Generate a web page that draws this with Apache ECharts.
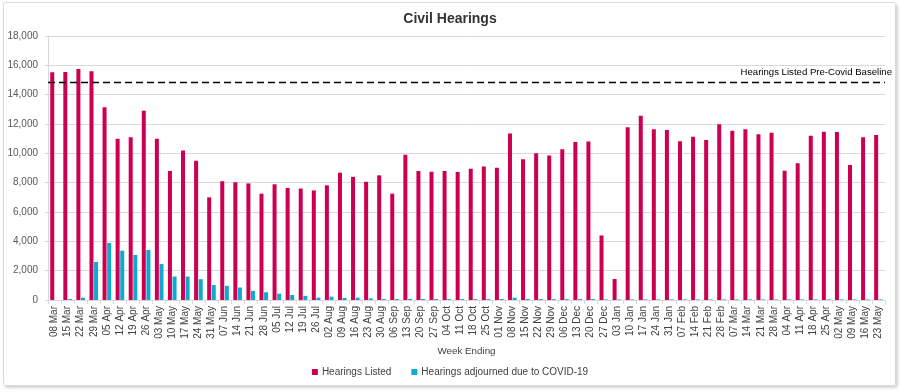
<!DOCTYPE html>
<html>
<head>
<meta charset="utf-8">
<script src="https://cdn.jsdelivr.net/npm/echarts@6/dist/echarts.min.js"></script>
<style>
html,body{margin:0;padding:0;background:#fff;}
#frame{position:absolute;left:3px;top:2px;width:891px;height:382px;border:1px solid #d9d9d9;border-radius:3px;box-shadow:2px 2px 3px rgba(0,0,0,0.18);pointer-events:none;}
#chart{width:900px;height:392px;}
</style>
</head>
<body>
<div id="chart"></div>
<div id="frame"></div>
<script>
const weeks = ["08 Mar","15 Mar","22 Mar","29 Mar","05 Apr","12 Apr","19 Apr","26 Apr","03 May","10 May","17 May","24 May","31 May","07 Jun","14 Jun","21 Jun","28 Jun","05 Jul","12 Jul","19 Jul","26 Jul","02 Aug","09 Aug","16 Aug","23 Aug","30 Aug","06 Sep","13 Sep","20 Sep","27 Sep","04 Oct","11 Oct","18 Oct","25 Oct","01 Nov","08 Nov","15 Nov","22 Nov","29 Nov","06 Dec","13 Dec","20 Dec","27 Dec","03 Jan","10 Jan","17 Jan","24 Jan","31 Jan","07 Feb","14 Feb","21 Feb","28 Feb","07 Mar","14 Mar","21 Mar","28 Mar","04 Apr","11 Apr","18 Apr","25 Apr","02 May","09 May","16 May","23 May"];
const hearingsListed = [15520,15550,15750,15600,13150,11000,11100,12900,11000,8800,10200,9500,7000,8100,8030,7950,7250,7890,7640,7600,7470,7820,8680,8400,8060,8500,7250,9900,8800,8750,8800,8730,8950,9100,9020,11350,9600,10000,9850,10270,10780,10800,4400,1430,11780,12570,11640,11590,10820,11130,10910,11980,11540,11640,11300,11410,8820,9320,11200,11480,11450,9200,11090,11250];
const hearingsAdjourned = [0,60,160,2600,3890,3360,3070,3410,2450,1600,1600,1420,1020,970,850,620,530,430,340,280,160,230,140,160,110,70,70,70,70,70,60,60,60,60,70,160,70,70,60,60,60,60,40,40,40,40,40,40,40,40,40,40,40,40,40,40,40,40,40,40,40,40,40,40];
const baseline = 14850;
const yTicks = [0,2000,4000,6000,8000,10000,12000,14000,16000,18000];

const chart = echarts.init(document.getElementById('chart'));
const font = "'Liberation Sans', Arial, sans-serif";
chart.setOption({
  animation:false,
  textStyle:{fontFamily:font},
  title:{text:'Civil Hearings',left:'center',top:7,textStyle:{fontFamily:font,fontSize:14,fontWeight:'bold',color:'#333'}},
  grid:{left:48,right:15,top:36,bottom:92},
  legend:{bottom:10,left:'center',itemWidth:6,itemHeight:6,itemGap:20,icon:'rect',
    textStyle:{fontFamily:font,fontSize:10,color:'#404040',padding:[0,0,0,-1]},
    data:['Hearings Listed','Hearings adjourned due to COVID-19']},
  xAxis:{type:'category',data:weeks,name:'Week Ending',nameLocation:'middle',nameGap:38,
    nameTextStyle:{fontFamily:font,fontSize:9.8,color:'#404040'},
    axisLine:{lineStyle:{color:'#d9d9d9'}},
    axisTick:{show:true,alignWithLabel:false,length:4,lineStyle:{color:'#d9d9d9'}},
    axisLabel:{rotate:90,interval:0,fontFamily:font,fontSize:10,color:'#404040',margin:6}},
  yAxis:{type:'value',min:0,max:18000,interval:2000,
    axisLine:{show:true,lineStyle:{color:'#d9d9d9'}},
    axisTick:{show:true,length:3,lineStyle:{color:'#d9d9d9'}},
    splitLine:{lineStyle:{color:'#d9d9d9'}},
    axisLabel:{fontFamily:font,fontSize:10,color:'#595959',margin:10,
      formatter:v=>yTicks.includes(v)?v.toLocaleString('en-US'):''}},
  series:[
    {name:'Hearings Listed',type:'bar',data:hearingsListed,barWidth:4,barGap:'15%',
     itemStyle:{color:'#cc0052'},
     markLine:{symbol:'none',silent:true,
       lineStyle:{color:'#000',type:[7,4],width:1.3},
       label:{show:true,position:'insideEndTop',formatter:'Hearings Listed Pre-Covid Baseline',fontFamily:font,fontSize:9.6,color:'#000',distance:[0,5],offset:[7,0]},
       data:[{yAxis:baseline}]}},
    {name:'Hearings adjourned due to COVID-19',type:'bar',data:hearingsAdjourned,barWidth:4,
     itemStyle:{color:'#0fa8d2'}}
  ]
});
</script>
</body>
</html>
